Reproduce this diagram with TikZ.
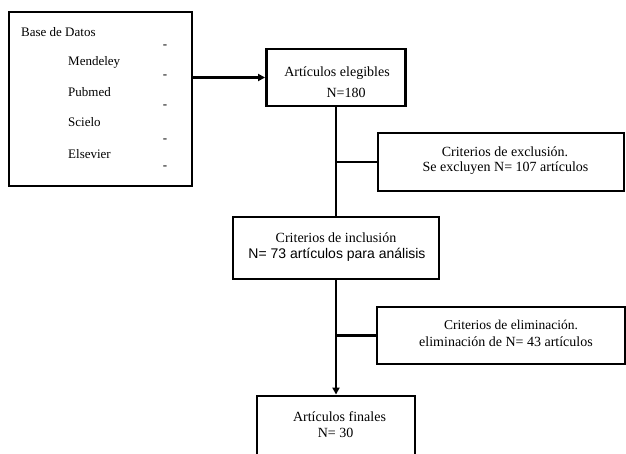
\documentclass[tikz,border=0pt]{standalone}
\usepackage{fontspec}
\setmainfont{Liberation Serif}
\newfontfamily\arialf{Liberation Sans}
\usetikzlibrary{arrows.meta}
\begin{document}
\begin{tikzpicture}[x=1pt,y=-1pt,
  boxstyle/.style={draw,line width=2.9pt,inner sep=0pt},
  txt/.style={inner sep=0pt,font=\fontsize{13}{15}\selectfont},
  ctxt/.style={inner sep=0pt,align=center,font=\fontsize{14}{17}\selectfont},
  conn/.style={line width=2.2pt},
  thin/.style={line width=1.3pt},
  arr/.style={line width=2.2pt,-{Triangle[length=7pt,width=7pt]}}]
\useasboundingbox (0,0) rectangle (626,453);
\fill[white] (0,0) rectangle (626,453);
\begin{scope}
\clip (0,0) rectangle (626,453);
% boxes
\node[boxstyle,minimum width=183pt,minimum height=174pt] (db) at (100.5,99) {};
\node[boxstyle,minimum width=139pt,minimum height=57pt] (eleg) at (336,77.5) {};
\node[boxstyle,minimum width=246pt,minimum height=58pt] (excl) at (501,162) {};
\node[boxstyle,minimum width=206pt,minimum height=62pt] (incl) at (336,248) {};
\node[boxstyle,minimum width=248pt,minimum height=57pt] (elim) at (501,335.5) {};
\node[boxstyle,minimum width=158pt,minimum height=74pt] (fin) at (336,433) {};
\end{scope}
% left box text
\node[txt,anchor=west] (t0) at (21,32) {Base de Datos};
\node[txt,anchor=west] (t1) at (68,62) {Mendeley};
\node[txt,anchor=west] (t2) at (68,92) {Pubmed};
\node[txt,anchor=west] (t3) at (68,122) {Scielo};
\node[txt,anchor=west] (t4) at (68,154) {Elsevier};
\node[txt] (d1) at (165,47) {-};
\node[txt] (d2) at (165,77) {-};
\node[txt] (d3) at (165,107) {-};
\node[txt] (d4) at (165,141) {-};
\node[txt] (d5) at (165,168) {-};
% texts
\node[ctxt] (e1) at (337,73) {Artículos elegibles};
\node[ctxt] (e2) at (346,93) {N=180};
\node[ctxt] (x1) at (505,152) {Criterios de exclusión.};
\node[ctxt] (x2) at (505.5,168) {Se excluyen N= 107 artículos};
\node[ctxt] (i1) at (336,238) {Criterios de inclusión};
\node[ctxt,font=\arialf\fontsize{14}{17}\selectfont] (i2) at (337,255) {N= 73 artículos para análisis};
\node[ctxt,font=\fontsize{13.5}{16}\selectfont] (m1) at (511,325) {Criterios de eliminación.};
\node[ctxt] (m2) at (506,342) {eliminación de N= 43 artículos};
\node[ctxt] (f1) at (339.5,417) {Artículos finales};
\node[ctxt] (f2) at (335.5,433) {N= 30};
% connectors
\draw[arr] (db.east |- eleg.west) -- (eleg.west);
\draw[conn] (eleg.south) -- (incl.north);
\coordinate (j1) at (eleg.south |- excl.west);
\draw[thin] (j1) -- (excl.west);
\draw[arr] (incl.south) -- (fin.north);
\coordinate (j2) at (incl.south |- elim.west);
\draw[conn] (j2) -- (elim.west);
\end{tikzpicture}
\end{document}
